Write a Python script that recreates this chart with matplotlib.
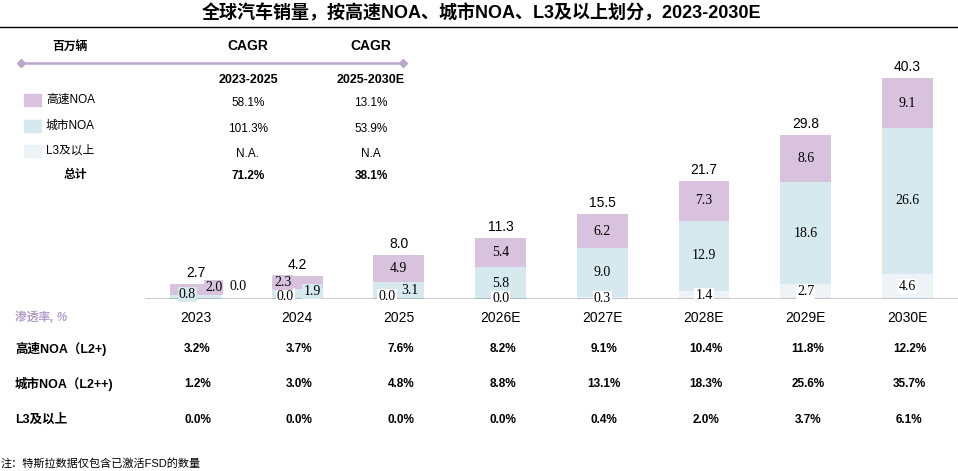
import matplotlib

matplotlib.use("Agg")
import matplotlib.pyplot as plt
import matplotlib.transforms as mtransforms
import numpy as np

plt.rcParams["font.family"] = ["Liberation Sans", "Noto Sans CJK SC", "DejaVu Sans"]

# ---- data ---------------------------------------------------------------
years = ["2023", "2024", "2025", "2026E", "2027E", "2028E", "2029E", "2030E"]
l3_plus = [0.0, 0.0, 0.0, 0.0, 0.3, 1.4, 2.7, 4.6]
city_noa = [0.8, 1.9, 3.1, 5.8, 9.0, 12.9, 18.6, 26.6]
highway_noa = [2.0, 2.3, 4.9, 5.4, 6.2, 7.3, 8.6, 9.1]
totals = [2.7, 4.2, 8.0, 11.3, 15.5, 21.7, 29.8, 40.3]

cagr_series = ["高速NOA", "城市NOA", "L3及以上"]
cagr_2023_2025 = ["58.1%", "101.3%", "N.A."]
cagr_2025_2030 = ["13.1%", "53.9%", "N.A"]
cagr_total = ["71.2%", "38.1%"]

pen_rows = ["高速NOA（L2+)", "城市NOA（L2++)", "L3及以上"]
pen_highway = ["3.2%", "3.7%", "7.6%", "8.2%", "9.1%", "10.4%", "11.8%", "12.2%"]
pen_city = ["1.2%", "3.0%", "4.8%", "8.8%", "13.1%", "18.3%", "25.6%", "35.7%"]
pen_l3 = ["0.0%", "0.0%", "0.0%", "0.0%", "0.4%", "2.0%", "3.7%", "6.1%"]

# ---- style --------------------------------------------------------------
C_HW = "#d8c2dd"
C_CITY = "#d5e9ee"
C_L3 = "#eef3f7"
C_LINE = "#b9a7cf"
W, H = 958, 471

# label nudges (pixels) for the crowded small bars
nudge = {
    ("l3", 0): (43, 12), ("city", 0): (-8, 2), ("hw", 0): (18, 2),
    ("l3", 1): (-12, 3), ("city", 1): (15, 2), ("hw", 1): (-14, 0),
    ("l3", 2): (-12, 2), ("city", 2): (11, 0),
}


def fx(px):
    return px / W


def fy(py):
    return 1 - py / H


fig = plt.figure(figsize=(W / 100, H / 100), dpi=100)

# title + rule
fig.text(fx(482), fy(13), "全球汽车销量，按高速NOA、城市NOA、L3及以上划分，2023-2030E",
         ha="center", va="center", fontsize=13, fontweight="bold")
fig.add_artist(plt.Line2D([0, 1], [fy(27), fy(27)], color="black", lw=1.0))

# bar chart axes: baseline at y=299px, 5.48 px per unit
left_px, top_px, base_px = 145, 60, 299
x0 = (left_px - 195.5) / 101.7
x1 = (W - 195.5) / 101.7
ax = fig.add_axes([fx(left_px), fy(base_px), 1 - fx(left_px), (base_px - top_px) / H])
ax.set_xlim(x0, x1)
ax.set_ylim(0, (base_px - top_px) / 5.48)
ax.axis("off")

x = np.arange(len(years))
l3 = np.array(l3_plus)
city = np.array(city_noa)
hw = np.array(highway_noa)
bw = 0.5
ax.bar(x, l3, bw, color=C_L3, zorder=2)
ax.bar(x, city, bw, bottom=l3, color=C_CITY, zorder=2)
ax.bar(x, hw, bw, bottom=l3 + city, color=C_HW, zorder=2)
ax.axhline(0, color="black", lw=1.0, zorder=3)

for key, vals, bottoms, col in [("l3", l3, np.zeros_like(l3), "white"),
                                ("city", city, l3, C_CITY),
                                ("hw", hw, l3 + city, C_HW)]:
    for i, v in enumerate(vals):
        dx, dy = nudge.get((key, i), (0, 0))
        ax.annotate(f"{v:.1f}", (x[i], bottoms[i] + v / 2), xytext=(dx, dy),
                    textcoords="offset pixels", ha="center", va="center",
                    fontsize=10, family="Liberation Serif", zorder=5,
                    bbox=dict(boxstyle="square,pad=0.08", fc=col, ec="none"))

for i, t in enumerate(totals):
    ax.annotate(f"{t:.1f}", (x[i], l3[i] + city[i] + hw[i]), xytext=(0, 4),
                textcoords="offset pixels", ha="center", va="bottom", fontsize=10)

# year labels and penetration table, x in data, y in figure
trans = mtransforms.blended_transform_factory(ax.transData, fig.transFigure)
for i, y in enumerate(years):
    ax.text(x[i], fy(318), y, transform=trans, ha="center", va="center",
            fontsize=10, clip_on=False)

fig.text(fx(15), fy(318), "渗透率, %", color="#b39dc9", fontsize=8.5,
         style="italic", fontweight="bold", ha="left", va="center")
for r, (label, vals) in enumerate(zip(pen_rows, [pen_highway, pen_city, pen_l3])):
    yy = fy([349, 384, 420][r])
    fig.text(fx(15), yy, label, fontsize=9, fontweight="bold", ha="left", va="center")
    for i, v in enumerate(vals):
        ax.text(x[i] + 0.02, yy, v, transform=trans, ha="center", va="center",
                fontsize=8.5, fontweight="bold", clip_on=False)

# CAGR table (top left)
fig.text(fx(70), fy(47), "百万辆", fontsize=8.5, fontweight="bold", style="italic",
         ha="center", va="center")
for cx, period in [(248, "2023-2025"), (371, "2025-2030E")]:
    fig.text(fx(cx), fy(46), "CAGR", fontsize=10, fontweight="bold", ha="center", va="center")
    fig.text(fx(cx), fy(80), period, fontsize=9, fontweight="bold", ha="center", va="center")
fig.add_artist(plt.Line2D([fx(21), fx(403)], [fy(63), fy(63)], color=C_LINE, lw=1.8,
                          marker="D", markersize=4, markevery=[0, 1]))

for r, (name, col) in enumerate(zip(cagr_series, [C_HW, C_CITY, C_L3])):
    yy = [100, 126, 151][r]
    fig.add_artist(plt.Rectangle((fx(24), fy(yy + 6)), fx(17), 12 / H, color=col))
    fig.text(fx(46), fy(yy), name, fontsize=8.5, ha="left", va="center")
    fig.text(fx(248), fy(yy + 3), cagr_2023_2025[r], fontsize=8.5, ha="center", va="center")
    fig.text(fx(371), fy(yy + 3), cagr_2025_2030[r], fontsize=8.5, ha="center", va="center")
fig.text(fx(75), fy(175), "总计", fontsize=8.5, fontweight="bold", ha="center", va="center")
fig.text(fx(248), fy(176), cagr_total[0], fontsize=8.5, fontweight="bold", ha="center", va="center")
fig.text(fx(371), fy(176), cagr_total[1], fontsize=8.5, fontweight="bold", ha="center", va="center")

# footnote
fig.text(fx(1), fy(463), "注：特斯拉数据仅包含已激活FSD的数量", fontsize=8,
         ha="left", va="center")

fig.savefig("out.png", dpi=100)
